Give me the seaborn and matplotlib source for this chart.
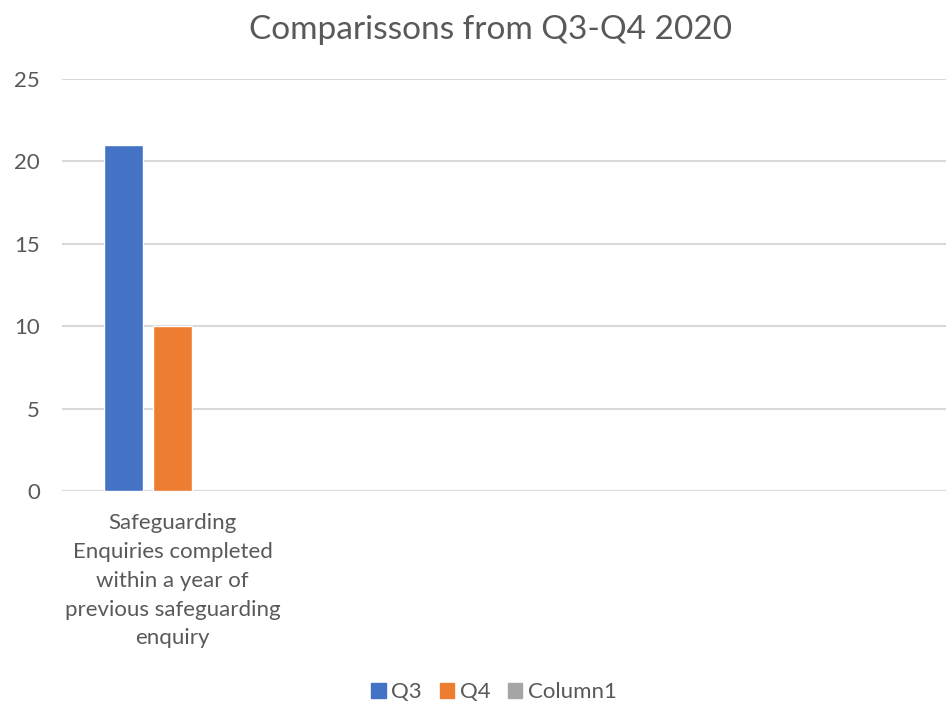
import matplotlib
matplotlib.use("Agg")
import matplotlib.pyplot as plt
import matplotlib.patches as mpatches
import numpy as np
import pandas as pd
import seaborn as sns

# Chart data
categories = [
    "Safeguarding\nEnquiries completed\nwithin a year of\nprevious safeguarding\nenquiry",
    "cat2", "cat3", "cat4",
]
tick_labels = [categories[0], "", "", ""]
series_names = ["Q3", "Q4", "Column1"]
q3_values = [21, np.nan, np.nan, np.nan]
q4_values = [10, np.nan, np.nan, np.nan]
column1_values = [np.nan, np.nan, np.nan, np.nan]
colors = ["#4472C4", "#ED7D31", "#A5A5A5"]
y_ticks = [0, 5, 10, 15, 20, 25]

df = pd.DataFrame({
    "category": categories * 3,
    "series": [s for s in series_names for _ in categories],
    "value": q3_values + q4_values + column1_values,
})

sns.set_theme(style="white")
plt.rcParams["font.family"] = ["Lato", "DejaVu Sans"]
text_color = "#595959"

fig = plt.figure(figsize=(9.46, 7.03), dpi=100)
ax = fig.add_axes([62 / 946, 1 - 491 / 703, 884 / 946, (491 - 79) / 703])

sns.barplot(
    data=df, x="category", y="value", hue="series",
    order=categories, hue_order=series_names, palette=colors,
    width=0.665, gap=0.204, dodge=True, ax=ax, legend=False,
    saturation=1, errorbar=None,
)

ax.set_xlim(-0.5, len(categories) - 0.5)
ax.set_ylim(0, 25)
ax.set_yticks(y_ticks)
ax.set_yticklabels([str(t) for t in y_ticks], fontsize=16, color=text_color)
ax.set_xticks(range(len(categories)))
ax.set_xticklabels(tick_labels, fontsize=16, color=text_color, linespacing=1.55)
ax.tick_params(axis="both", length=0)
ax.tick_params(axis="y", pad=16)
ax.tick_params(axis="x", pad=16)
ax.set_xlabel("")
ax.set_ylabel("")

for y in y_ticks:
    ax.axhline(y, color="#D9D9D9", lw=1.5, zorder=0)
for side in ["top", "right", "left", "bottom"]:
    ax.spines[side].set_visible(False)
ax.set_axisbelow(True)

fig.text(490 / 946, 1 - 30 / 703, "Comparissons from Q3-Q4 2020",
         ha="center", va="center", fontsize=24, color=text_color)

handles = [mpatches.Patch(color=c, label=n) for c, n in zip(colors, series_names)]
fig.legend(handles=handles, loc="center", bbox_to_anchor=(494 / 946, 1 - 692 / 703),
           ncol=3, frameon=False, fontsize=16, labelcolor=text_color,
           handlelength=0.65, handleheight=0.65, handletextpad=0.25, columnspacing=0.8)

fig.savefig("out.png", dpi=100, facecolor="white")
